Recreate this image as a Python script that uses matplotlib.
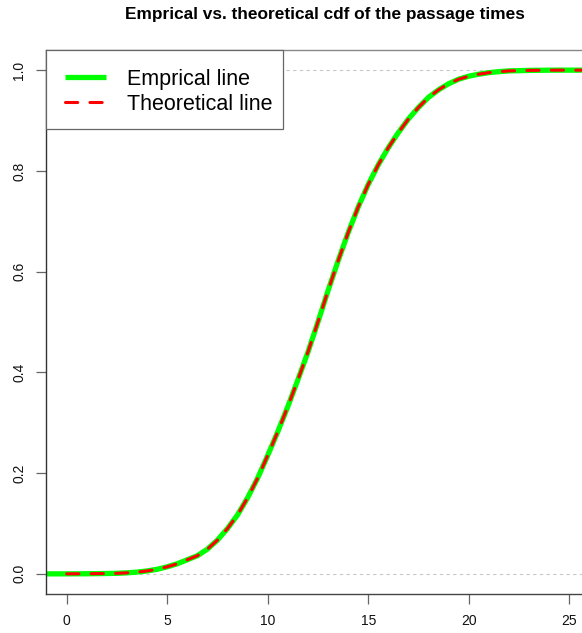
import matplotlib
matplotlib.use("Agg")
import matplotlib.pyplot as plt
from matplotlib.patches import Rectangle

plt.rcParams['font.family'] = ['Liberation Sans', 'DejaVu Sans']

# Data
theo_x = [0, 0.5, 1, 1.5, 2, 2.5, 3, 3.5, 4, 4.5, 5, 5.5, 6, 6.5, 7, 7.5, 8, 8.5,
          9, 9.5, 10, 10.5, 11, 11.5, 12, 12.5, 13, 13.5, 14, 14.5, 15, 15.5, 16,
          16.5, 17, 17.5, 18, 18.5, 19, 19.5, 20, 20.5, 21, 21.5, 22, 22.5, 23,
          23.5, 24, 24.5, 25, 25.5, 26, 26.5, 27]
theo_y = [0.0000, 0.0001, 0.0002, 0.0004, 0.0007, 0.0011, 0.0020, 0.0035, 0.0058,
          0.0090, 0.0140, 0.0200, 0.0280, 0.0360, 0.0490, 0.0670, 0.0900, 0.1170,
          0.1510, 0.1900, 0.2350, 0.2820, 0.3320, 0.3850, 0.4400, 0.5000, 0.5620,
          0.6210, 0.6770, 0.7280, 0.7730, 0.8120, 0.8460, 0.8760, 0.9030, 0.9260,
          0.9460, 0.9610, 0.9730, 0.9820, 0.9880, 0.9920, 0.9950, 0.9970, 0.9985,
          0.9990, 0.9995, 0.9997, 0.9999, 1.0000, 1.0000, 1.0000, 1.0000, 1.0000,
          1.0000]

emp_x = [-2, -1, 0, 0.5, 1, 1.5, 2, 2.5, 3, 3.5, 4, 4.5, 5, 5.5, 6, 6.5, 7, 7.5, 8,
         8.5, 9, 9.5, 10, 10.5, 11, 11.5, 12, 12.5, 13, 13.5, 14, 14.5, 15, 15.5,
         16, 16.5, 17, 17.5, 18, 18.5, 19, 19.5, 20, 20.5, 21, 21.5, 22, 22.5, 23,
         23.5, 24, 24.5, 25, 25.5, 26, 26.5, 27]
emp_y = [0.0000, 0.0000, 0.0000, 0.0001, 0.0002, 0.0004, 0.0007, 0.0011, 0.0020,
         0.0035, 0.0058, 0.0090, 0.0140, 0.0200, 0.0280, 0.0360, 0.0490, 0.0670,
         0.0900, 0.1170, 0.1510, 0.1900, 0.2350, 0.2820, 0.3320, 0.3850, 0.4400,
         0.5000, 0.5620, 0.6210, 0.6770, 0.7280, 0.7730, 0.8120, 0.8460, 0.8760,
         0.9030, 0.9260, 0.9460, 0.9610, 0.9730, 0.9820, 0.9880, 0.9920, 0.9950,
         0.9970, 0.9985, 0.9990, 0.9995, 0.9997, 0.9999, 1.0000, 1.0000, 1.0000,
         1.0000, 1.0000, 1.0000]

x_ticks = [0, 5, 10, 15, 20, 25]
y_ticks = [0.0, 0.2, 0.4, 0.6, 0.8, 1.0]
y_ticklabels = ["0.0", "0.2", "0.4", "0.6", "0.8", "1.0"]
ref_lines = [0, 1]

title = "Emprical vs. theoretical cdf of the passage times"
labels = ["Emprical line", "Theoretical line"]

W, H = 582, 633
fig = plt.figure(figsize=(W / 100, H / 100), dpi=100)
left_px, right_px, top_px, bottom_px = 46, 604, 50, 594
ax = fig.add_axes([left_px / W, (H - bottom_px) / H,
                   (right_px - left_px) / W, (bottom_px - top_px) / H])

for h in ref_lines:
    ax.axhline(h, color='#c8c8c8', lw=0.8, ls=(0, (3, 3)), zorder=1)

l1, = ax.plot(emp_x, emp_y, color='#00ff00', lw=3.8, solid_capstyle='butt',
              solid_joinstyle='round', zorder=2, label=labels[0])
l2, = ax.plot(theo_x, theo_y, color='#ff0000', lw=2.2, ls=(0, (4, 4)),
              dash_capstyle='round', dash_joinstyle='round', zorder=3,
              label=labels[1])

ax.set_xlim(-1.028, 26.73)
ax.set_ylim(-0.04, 1.04)
ax.set_xticks(x_ticks)
ax.set_yticks(y_ticks)
ax.set_yticklabels(y_ticklabels, rotation=90, va='center')

ax.spines['right'].set_visible(False)
ax.spines['top'].set_color('#888888')
ax.spines['left'].set_color('#333333')
ax.spines['bottom'].set_color('#444444')
for s in ax.spines.values():
    s.set_linewidth(1.0)

ax.tick_params(axis='both', direction='out', length=7.2, width=0.9,
               color='#666666', labelsize=10, labelcolor='#111111')
ax.tick_params(axis='x', pad=7)
ax.tick_params(axis='y', pad=7)

ax.set_title(title, fontsize=12.4, fontweight='bold', pad=22)

# legend box (R style: asymmetric padding)
lx0, lx1, ly0, ly1 = 46, 283, 50, 129
frame = Rectangle((lx0 / W, 1 - ly1 / H), (lx1 - lx0) / W, (ly1 - ly0) / H,
                  transform=fig.transFigure, facecolor='white',
                  edgecolor='#666666', lw=0.9, zorder=5)
fig.patches.append(frame)

leg = ax.legend(handles=[l1, l2], loc='upper left', borderaxespad=0,
                fontsize=15.5, frameon=False, handlelength=1.95,
                handletextpad=0.93, borderpad=0.86, labelspacing=0.2)
leg.set_zorder(6)
fig.legends.append(leg)
ax.get_legend().remove() if False else None

fig.savefig('out.png', dpi=100)
